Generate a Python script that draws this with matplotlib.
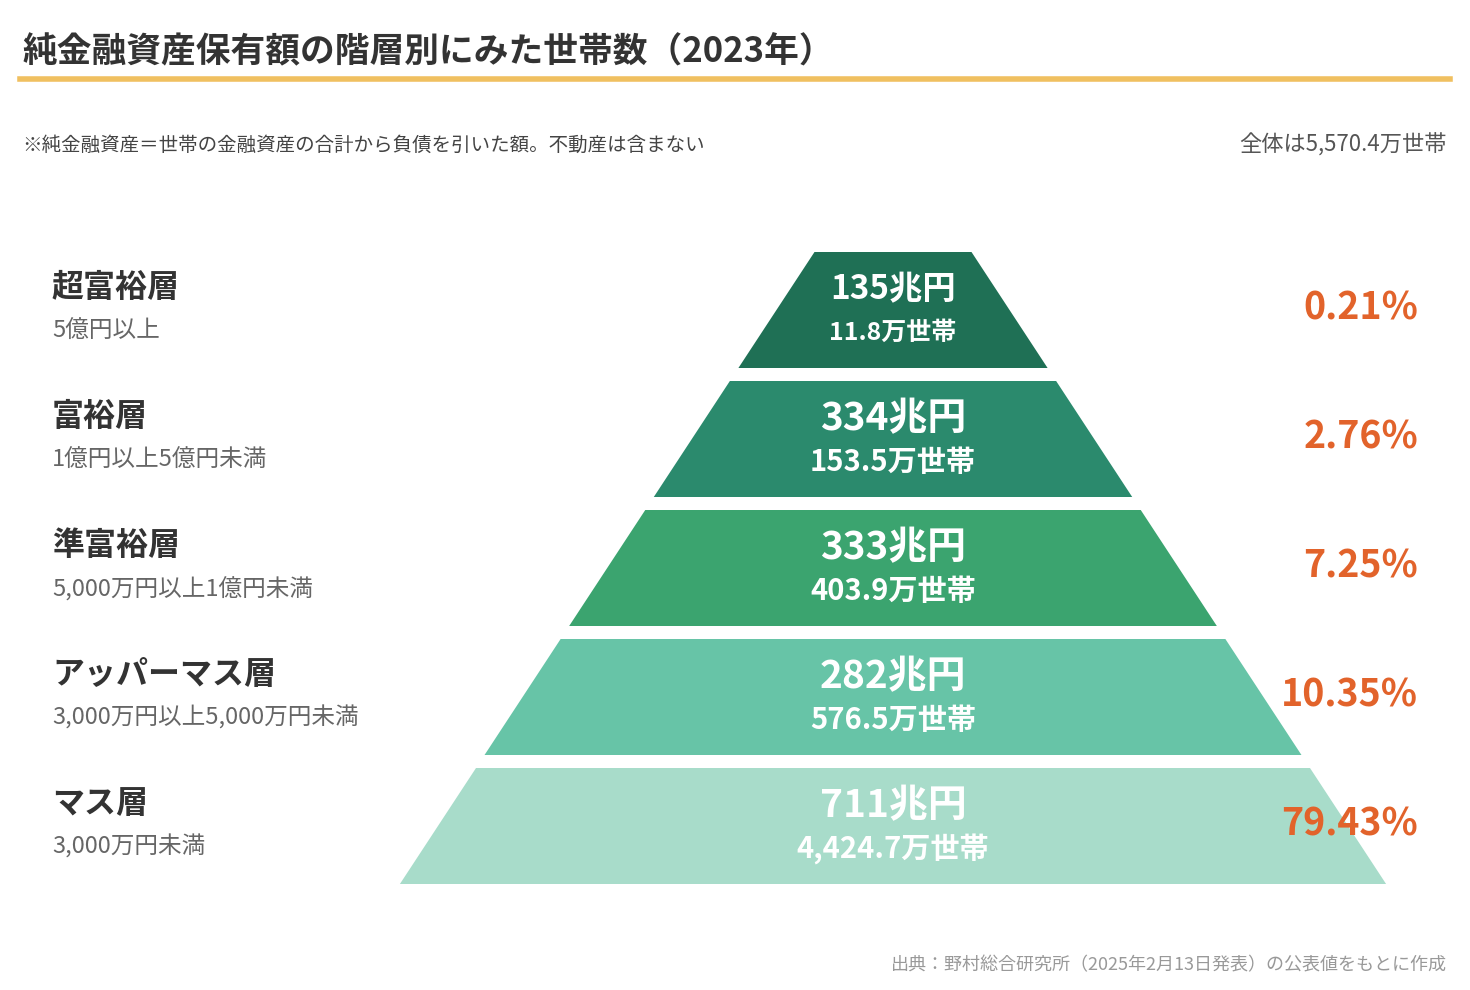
import matplotlib
matplotlib.use("Agg")
import matplotlib.pyplot as plt
from matplotlib.patches import Polygon

plt.rcParams['font.family'] = ['Noto Sans CJK JP', 'DejaVu Sans']

names = ["超富裕層", "富裕層", "準富裕層", "アッパーマス層", "マス層"]
ranges = ["5億円以上", "1億円以上5億円未満", "5,000万円以上1億円未満",
          "3,000万円以上5,000万円未満", "3,000万円未満"]
amounts = ["135兆円", "334兆円", "333兆円", "282兆円", "711兆円"]
households = ["11.8万世帯", "153.5万世帯", "403.9万世帯", "576.5万世帯", "4,424.7万世帯"]
pcts = ["0.21%", "2.76%", "7.25%", "10.35%", "79.43%"]
colors = ["#1f7055", "#2b8a6d", "#3ba46f", "#67c4a7", "#a8dcca"]

W, H = 1470, 990
fig = plt.figure(figsize=(W/100, H/100), dpi=100)
ax = fig.add_axes([0, 0, 1, 1])
ax.set_xlim(0, W); ax.set_ylim(H, 0); ax.axis('off')

ax.text(22, 52, "純金融資産保有額の階層別にみた世帯数（2023年）", fontsize=25,
        fontweight='bold', color='#333333', va='center')
ax.plot([20, 1450], [79, 79], color='#f0c060', lw=4)
ax.text(22, 145, "※純金融資産＝世帯の金融資産の合計から負債を引いた額。不動産は含まない",
        fontsize=14, color='#444444', va='center')
ax.text(1447, 145, "全体は5,570.4万世帯", fontsize=16, color='#555555', va='center', ha='right')
ax.text(1447, 965, "出典：野村総合研究所（2025年2月13日発表）の公表値をもとに作成",
        fontsize=13, color='#999999', va='center', ha='right')

cx = 893
top0, bot_last = 252, 883
def hw(y):
    return 78.5 + 0.656 * (y - top0)
step = 129
height = 116
for i in range(len(names)):
    yt = top0 + i * step
    yb = yt + height
    poly = Polygon([(cx - hw(yt), yt), (cx + hw(yt), yt), (cx + hw(yb), yb), (cx - hw(yb), yb)],
                   closed=True, color=colors[i], lw=0)
    ax.add_patch(poly)
    ym = (yt + yb) / 2
    ax.text(cx, ym - 20, amounts[i], fontsize=28 if i else 24, fontweight='bold', color='white',
            ha='center', va='center')
    ax.text(cx, ym + 23, households[i], fontsize=21 if i else 18, fontweight='bold', color='white',
            ha='center', va='center')
    ax.text(1418, ym - 2, pcts[i], fontsize=27, fontweight='bold', color='#e2632b',
            ha='right', va='center')
    ax.text(52, ym - 22, names[i], fontsize=23, fontweight='bold', color='#333333', va='center')
    ax.text(52, ym + 21, ranges[i], fontsize=17, color='#666666', va='center')

fig.savefig("out.png", dpi=100, facecolor='white')
